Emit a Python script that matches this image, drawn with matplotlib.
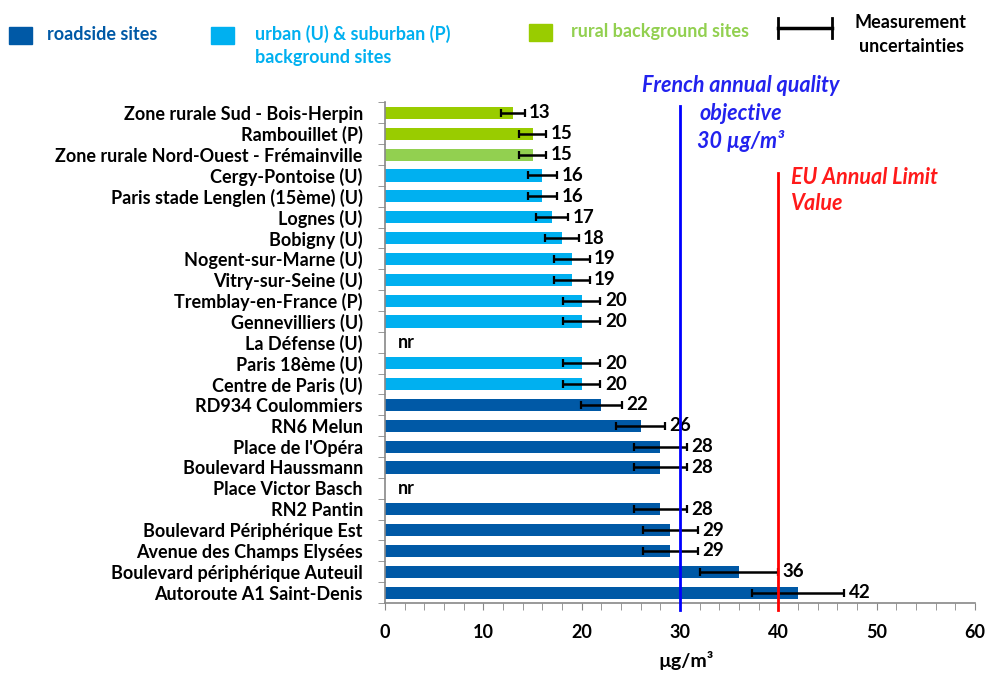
import numpy as np
import matplotlib
matplotlib.use("Agg")
import matplotlib.pyplot as plt
from matplotlib.patches import Rectangle
from matplotlib.lines import Line2D

plt.rcParams['font.family'] = ['Lato', 'DejaVu Sans']

# data, listed top to bottom as in the chart
sites = [
    "Zone rurale Sud - Bois-Herpin", "Rambouillet (P)",
    "Zone rurale Nord-Ouest - Frémainville", "Cergy-Pontoise (U)",
    "Paris stade Lenglen (15ème) (U)", "Lognes (U)", "Bobigny (U)",
    "Nogent-sur-Marne (U)", "Vitry-sur-Seine (U)", "Tremblay-en-France (P)",
    "Gennevilliers (U)", "La Défense (U)", "Paris 18ème (U)",
    "Centre de Paris (U)", "RD934 Coulommiers", "RN6 Melun",
    "Place de l'Opéra", "Boulevard Haussmann", "Place Victor Basch",
    "RN2 Pantin", "Boulevard Périphérique Est", "Avenue des Champs Elysées",
    "Boulevard périphérique Auteuil", "Autoroute A1 Saint-Denis",
]
values = [13, 15, 15, 16, 16, 17, 18, 19, 19, 20, 20, np.nan, 20, 20,
          22, 26, 28, 28, np.nan, 28, 29, 29, 36, 42]
uncert = [1.2, 1.4, 1.4, 1.5, 1.5, 1.6, 1.7, 1.8, 1.8, 1.9, 1.9, np.nan, 1.9, 1.9,
          2.1, 2.5, 2.7, 2.7, np.nan, 2.7, 2.8, 2.8, 4.0, 4.7]
site_type = ["rural", "rural", "rural2"] + ["urban"] * 11 + ["road"] * 10

FRENCH_OBJ = 30
EU_LIMIT = 40

colors = {"road": "#0059a6", "urban": "#00b0f0", "rural": "#99cc00", "rural2": "#92d050"}
BLUE_TXT = "#2222ee"
RED_TXT = "#ff1a1a"

W, H = 991, 673
fig = plt.figure(figsize=(W / 100, H / 100), dpi=100)
ax = fig.add_axes([0.3885, 0.104, 0.5955, 0.7437])

def fx(px):
    return px / W

def fy(py):
    return 1 - py / H

n = len(sites)
ypos = np.arange(n)[::-1]
vals = np.array(values, dtype=float)
errs = np.array(uncert, dtype=float)

ax.barh(ypos, np.nan_to_num(vals), height=0.58,
        color=[colors[t] for t in site_type], zorder=2)
ax.errorbar(vals, ypos, xerr=errs, fmt='none', ecolor='black',
            elinewidth=1.8, capsize=2.7, capthick=1.6, zorder=3)

for y, v, e in zip(ypos, vals, errs):
    if np.isnan(v):
        ax.text(1.3, y, "nr", va='center', ha='left', fontsize=13,
                fontweight='bold')
    else:
        ax.text(v + e + 0.45, y, f"{int(v)}", va='center', ha='left',
                fontsize=13.5, fontweight='bold')

# reference lines
ax.axvline(FRENCH_OBJ, ymin=-0.014, ymax=0.993, color='#0000ff', lw=2,
           clip_on=False, zorder=4)
ax.axvline(EU_LIMIT, ymin=-0.014, ymax=0.859, color='#ff0000', lw=2,
           clip_on=False, zorder=4)

ax.set_xlim(0, 60)
ax.set_ylim(-0.5, n - 0.5)
ax.set_xticks(np.arange(0, 61, 10))
ax.set_xticks(np.arange(0, 61, 2), minor=True)
ax.set_yticks(ypos)
ax.set_yticklabels(sites, fontsize=13, fontweight='bold')
ax.set_yticks(np.arange(-0.5, n, 1), minor=True)
ax.tick_params(axis='y', which='major', length=0, pad=16)
ax.tick_params(axis='y', which='minor', length=5, direction='out', color='#888888')
ax.tick_params(axis='x', which='both', length=5, direction='out', color='#888888',
               labelsize=13, pad=10)
for lbl in ax.get_xticklabels():
    lbl.set_fontweight('bold')
ax.set_xlabel("µg/m³", fontsize=14, fontweight='bold')
ax.xaxis.set_label_coords((686 - 385) / 590, -(660 - 603) / 500.5)
ax.xaxis.label.set_va('center')

for s in ['top', 'right']:
    ax.spines[s].set_visible(False)
for s in ['left', 'bottom']:
    ax.spines[s].set_color('#888888')
    ax.spines[s].set_linewidth(1.2)

# annotations for the reference lines
for txt, py in [("French annual quality", 85), ("objective", 113), ("30 µg/m³", 141)]:
    fig.text(fx(741), fy(py), txt, color=BLUE_TXT, fontsize=15.5, fontweight='bold',
             style='italic', ha='center', va='center')
for txt, py in [("EU Annual Limit", 178), ("Value", 203)]:
    fig.text(fx(791), fy(py), txt, color=RED_TXT, fontsize=15.5, fontweight='bold',
             style='italic', ha='left', va='center')

# legend drawn along the top
leg_boxes = [(9, 27, colors["road"]), (211, 27, colors["urban"]), (529, 24, colors["rural"])]
for x0, y0, c in leg_boxes:
    fig.patches.append(Rectangle((fx(x0), fy(y0 + 17)), 23 / W, 17 / H,
                                 color=c, transform=fig.transFigure))

leg_texts = [
    ("roadside sites", 47, 34, colors["road"]),
    ("urban (U) & suburban (P)", 255, 34, colors["urban"]),
    ("background sites", 255, 57, colors["urban"]),
    ("rural background sites", 571, 31, "#92d050"),
]
for txt, px, py, c in leg_texts:
    fig.text(fx(px), fy(py), txt, color=c, fontsize=13, fontweight='bold',
             ha='left', va='center')

fig.lines.append(Line2D([fx(778), fx(832)], [fy(28), fy(28)],
                        color='black', lw=2.5, transform=fig.transFigure))
for xx in (778, 832):
    fig.lines.append(Line2D([fx(xx), fx(xx)], [fy(18), fy(38)],
                            color='black', lw=2, transform=fig.transFigure))
fig.text(fx(911), fy(23), "Measurement", fontsize=13, fontweight='bold',
         ha='center', va='center')
fig.text(fx(911), fy(47), "uncertainties", fontsize=13, fontweight='bold',
         ha='center', va='center')

fig.savefig("out.png", dpi=100)
